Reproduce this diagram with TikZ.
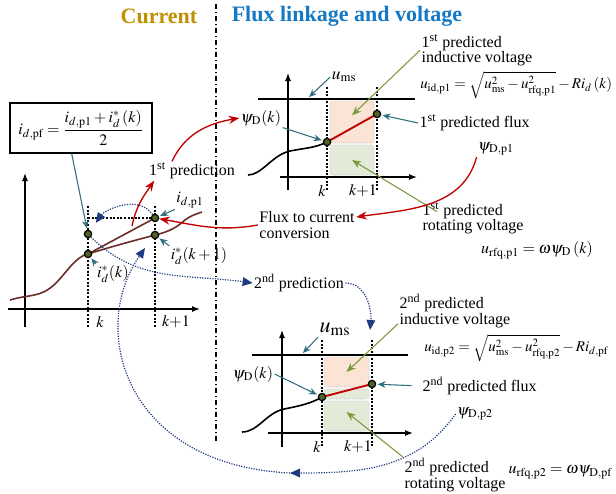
\documentclass[tikz,border=0pt]{standalone}
\usepackage{amsmath}
\usepackage{mathptmx}
\usepackage[no-math]{fontspec}
\setmainfont{Liberation Serif}
\usetikzlibrary{arrows.meta}
\usetikzlibrary{positioning}
\definecolor{golden}{HTML}{BF9000}
\definecolor{fluxblue}{HTML}{1479C4}
\definecolor{tealarr}{HTML}{2F6F7E}
\definecolor{redarr}{HTML}{C00000}
\definecolor{navyarr}{HTML}{1F3A80}
\definecolor{greenarr}{HTML}{7A9A3E}
\definecolor{brownline}{HTML}{6B2C2A}
\definecolor{dotfill}{HTML}{4F6228}
\definecolor{orangefill}{HTML}{FBE3D6}
\definecolor{greenfill}{HTML}{E3EBD8}
\tikzset{
txt/.style={
	inner sep=1pt,
	align=left,
	font=\fontsize{12}{11.5}\selectfont
},
mathtxt/.style={
	inner sep=1pt,
	font=\fontsize{12}{14}\selectfont
},
formula/.style={
	inner sep=0pt,
	font=\fontsize{11.2}{13}\selectfont
},
title/.style={
	inner sep=1pt,
	font=\fontsize{16.5}{18}\selectfont\bfseries
},
axis/.style={
	-{Latex[length=6pt,width=4.5pt]},
	line width=1pt
},
guide/.style={
	dash pattern=on 1.5pt off 1.2pt,
	line width=0.8pt
},
dot/.style={
	circle,
	fill=dotfill,
	draw=black,
	line width=0.9pt,
	inner sep=0pt,
	minimum size=5.5pt
},
obox/.style={
	rectangle,
	rounded corners=2pt,
	draw=gray!55,
	densely dotted,
	line width=0.5pt,
	fill=orangefill,
	inner sep=0pt
},
gbox/.style={
	obox,
	fill=greenfill
},
tealarrow/.style={
	draw=tealarr,
	line width=0.8pt,
	-{Stealth[length=6pt,width=5pt]},
	shorten >=1pt
},
redarrow/.style={
	draw=redarr,
	line width=1pt,
	-{Stealth[length=8pt,width=6pt]}
},
navyarrow/.style={
	draw=navyarr,
	line width=0.9pt,
	densely dotted,
	-{Triangle[length=7.5pt,width=6.5pt]}
},
greenarrow/.style={
	draw=greenarr,
	line width=0.8pt,
	-{Stealth[length=7pt,width=5.5pt]}
}
}

\begin{document}
\begin{tikzpicture}[x=0.75pt, y=-0.75pt]
\useasboundingbox (0,0) rectangle (616,493);
% ===== Titles and the split line =====
\node (curtitle)  [title, text=golden]   at (159,16) {Current};
\node (fluxtitle) [title, text=fluxblue] at (347,16) {Flux linkage and voltage};
\draw [dash pattern=on 4pt off 2pt on 1pt off 2pt, line width=0.8pt] (216,4) -- (216,443);

% ===== Current plot (left) =====
\draw [axis] (25,327) -- (25,173);
\draw [axis] (8,309) -- (200,309);
\draw [guide] (88,206) -- (88,328);
\draw [guide] (155,206) -- (155,328);
\draw [guide] (88,218) -- (155,218);
\node (kleft)  [mathtxt] at (100,322) {$k$};
\node (k1left) [mathtxt] at (176,322) {$k{+}1$};
\draw [brownline, line width=1.2pt] (10,300) .. controls (30,294) and (40,298) .. (55,284)
  .. controls (68,271) and (75,257) .. (88,254) .. controls (110,247) and (140,239) .. (155,235)
  .. controls (172,231) and (178,226) .. (185,220) .. controls (190,216) and (196,214) .. (202,212);
\draw [brownline, line width=1.2pt] (88,254) -- (155,218);
\node (idk)  [dot] at (88,254)  {};
\node (idp1) [dot] at (155,218) {};
\node (idk1) [dot] at (155,235) {};
\node (idpf) [dot] at (88,234)  {};
% current labels
\node (pfbox) [draw, line width=0.8pt, minimum width=106.5pt, minimum height=37.5pt, inner sep=2pt,
  font=\fontsize{12}{14}\selectfont] at (81,128)
  {$i_{d,\mathrm{pf}} = \dfrac{i_{d,\mathrm{p1}} + i_d^{*}\left(k\right)}{2}$};
\node (lidp1) [mathtxt] at (190,200) {$i_{d,\mathrm{p1}}$};
\node (lidk1) [mathtxt] at (199,256) {$i_d^{*}(k+1)$};
\node (lidk)  [mathtxt] at (113,274) {$i_d^{*}(k)$};
\draw [tealarrow] ([xshift=-7pt]pfbox.south) -- (idpf);
\draw [tealarrow] (lidp1.south west) -- (idp1);
\draw [tealarrow] (lidk1.north west) -- (idk1);
\draw [tealarrow] (lidk.north west) -- (idk);

% ===== Flux plot, 1st prediction (top right) =====
\node (orange1) [obox, minimum width=33pt, minimum height=31.5pt] at (352,122) {};
\node (green1)  [gbox, minimum width=33pt, minimum height=22.5pt] at (352,160) {};
\draw [axis] (288,190) -- (288,73);
\draw [axis] (280,177) -- (417,177);
\draw [line width=1pt] (258,99) -- (415,99);
\draw [guide] (327,87) -- (327,190);
\draw [guide] (377,87) -- (377,190);
\node (ktop)  [mathtxt] at (322,191) {$k$};
\node (k1top) [mathtxt] at (363,191) {$k{+}1$};
\draw [line width=1.2pt] (248,175) .. controls (262,175) and (272,155) .. (290,151)
  .. controls (305,148) and (315,148) .. (327,142);
\draw [redarr, line width=1.4pt] (327,142) -- (377,114);
\node (psik1d) [dot] at (327,142) {};
\node (psip1d) [dot] at (377,114) {};
\node (psik1) [mathtxt] at (261,118) {$\psi_{\mathrm{D}}(k)$};
\node (ums1)  [mathtxt, font=\fontsize{13}{15}\selectfont] at (344,77) {$u_{\mathrm{ms}}$};
\coordinate (ums1t) at (308,98);
\node (ind1)  [txt, anchor=north west] at (420,33) {1\textsuperscript{st} predicted\\inductive voltage};
\node (uid1)  [formula, anchor=west] at (420,85)
  {$u_{\mathrm{id,p1}} = \sqrt{u_{\mathrm{ms}}^{2} - u_{\mathrm{rfq,p1}}^{2}} - R i_d\left(k\right)$};
\node (flux1) [txt, anchor=west] at (418,123) {1\textsuperscript{st} predicted flux};
\node (psip1) [mathtxt] at (496,149) {$\psi_{\mathrm{D,p1}}$};
\node (rot1)  [txt, anchor=north west] at (421,201) {1\textsuperscript{st} predicted\\rotating voltage};
\node (urfq1) [mathtxt] at (537,250) {$u_{\mathrm{rfq,p1}} = \omega\psi_{\mathrm{D}}\left(k\right)$};
\draw [tealarrow] (ums1.west) -- (ums1t);
\draw [tealarrow] (psik1.south east) -- (psik1d);
\draw [tealarrow] (flux1.west) -- (psip1d);
\draw [greenarrow] (ind1.west) -- ([yshift=5pt]orange1.center);
\draw [greenarrow] ([xshift=12pt,yshift=-8pt]rot1.north west) -- (green1.center);

% ===== Red arrows: 1st prediction and flux to current =====
\node (pred1) [txt] at (192,171) {1\textsuperscript{st} prediction};
\node (conv)  [txt] at (307,225) {Flux to current\\conversion};
\coordinate (pred1s) at (132,226);
\draw [redarrow] (pred1s) to[out=78, in=235] ([xshift=5pt]pred1.south west);
\draw [redarrow] ([xshift=-15pt]pred1.north) to[out=65, in=190] (psik1.west);
\draw [redarrow] (conv.west) to[out=190, in=-10] (idp1);
\draw [redarrow] (psip1.south west) to[out=-105, in=8] ([yshift=6pt]conv.east);

% ===== Flux plot, 2nd prediction (bottom right) =====
\node (orange2) [obox, minimum width=33.75pt, minimum height=22.5pt] at (346.5,372) {};
\node (green2a) [gbox, minimum width=33.75pt, minimum height=7.5pt]  at (346.5,394) {};
\node (green2b) [gbox, minimum width=33.75pt, minimum height=22.5pt] at (346.5,416) {};
\draw [axis] (282,447) -- (282,330);
\draw [axis] (268,433) -- (413,433);
\draw [line width=1pt] (252,355) -- (408,355);
\draw [guide] (322,340) -- (322,447);
\draw [guide] (372,340) -- (372,447);
\node (kbot)  [mathtxt] at (317,447) {$k$};
\node (k1bot) [mathtxt] at (358,447) {$k{+}1$};
\draw [line width=1.2pt] (242,432) .. controls (258,432) and (266,413) .. (284,409)
  .. controls (300,406) and (312,403) .. (322,397);
\draw [redarr, line width=1.4pt] (322,397) -- (372,384);
\node (psik2d) [dot] at (322,397) {};
\node (psip2d) [dot] at (372,384) {};
\node (psik2) [mathtxt] at (253,374) {$\psi_{\mathrm{D}}(k)$};
\node (ums2)  [mathtxt, font=\fontsize{16.5}{18}\selectfont] at (335,329) {$u_{\mathrm{ms}}$};
\coordinate (ums2t) at (302,354);
\node (ind2)  [txt, anchor=north west] at (398,293) {2\textsuperscript{nd} predicted\\inductive voltage};
\node (uid2)  [formula, anchor=west] at (424,348)
  {$u_{\mathrm{id,p2}} = \sqrt{u_{\mathrm{ms}}^{2} - u_{\mathrm{rfq,p2}}^{2}} - R i_{d,\mathrm{pf}}$};
\node (flux2) [txt, anchor=west] at (421,386) {2\textsuperscript{nd} predicted flux};
\node (psip2) [mathtxt] at (475,414) {$\psi_{\mathrm{D,p2}}$};
\node (rot2)  [txt, anchor=north west] at (403,457) {2\textsuperscript{nd} predicted\\rotating voltage};
\node (urfq2) [mathtxt, anchor=west] at (507,472) {$u_{\mathrm{rfq,p2}} = \omega\psi_{\mathrm{D,pf}}$};
\draw [tealarrow] (ums2.south west) -- (ums2t);
\draw [tealarrow] (psik2.east) -- (psik2d);
\draw [tealarrow, shorten <=7pt] (flux2.west) -- (psip2d);
\draw [greenarrow] ([yshift=4pt]ind2.south west) -- (orange2.center);
\draw [greenarrow] (rot2.north west) -- ([yshift=3pt]green2b.center);

% ===== Dotted navy arrows: 2nd prediction loop =====
\node (pred2) [txt] at (299,283) {2\textsuperscript{nd} prediction};
\coordinate (p2tip) at (370,330);
\coordinate (mid2) at (290,473);
\coordinate (lk1tip) at (145,248);
\draw [navyarrow, shorten >=7pt] (idp1) to[out=125, in=55] (idpf);
\draw [navyarrow] (idpf) to[out=-45, in=172] (pred2.west);
\draw [navyarrow] (pred2.east) to[out=0, in=85] (p2tip);
\draw [navyarrow] (psip2.west) to[out=-125, in=0] (mid2);
\draw [navyarrow] (mid2) .. controls (125,465) and (88,330) .. (lk1tip);

\end{tikzpicture}
\end{document}
